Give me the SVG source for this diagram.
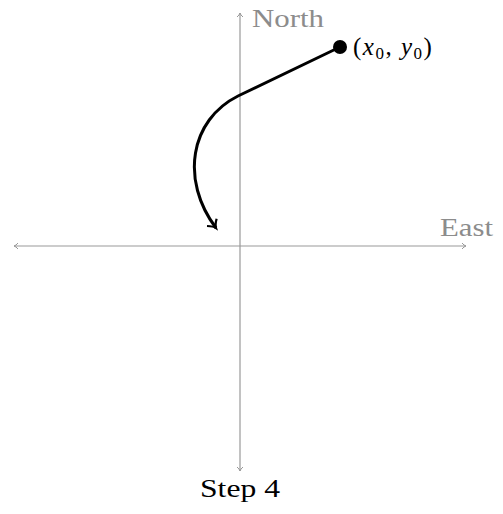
<svg xmlns="http://www.w3.org/2000/svg" width="503" height="514" viewBox="0 0 503 514">
<style>
.ax{stroke:#999;stroke-width:1.2;fill:none}
.axl{font-family:"Liberation Serif","DejaVu Serif",serif;font-size:25px;fill:#8c8c8c}
.lbl{font-family:"Liberation Serif","DejaVu Serif",serif;font-size:25px;fill:#000}
</style>
<defs>
<marker id="ga" markerWidth="10" markerHeight="10" refX="6" refY="5" orient="auto-start-reverse" markerUnits="userSpaceOnUse">
<path d="M2,2 Q4,4.5 6,5 Q4,5.5 2,8" fill="none" stroke="#999" stroke-width="1"/>
</marker>
<marker id="ba" markerWidth="16" markerHeight="16" refX="10" refY="8" orient="auto" markerUnits="userSpaceOnUse">
<path d="M3,2 Q7,7 10,8 Q7,9 3,14" fill="none" stroke="#000" stroke-width="2.2"/>
</marker>
</defs>
<g id="axes">
<line class="ax" x1="14" y1="246" x2="466" y2="246" marker-start="url(#ga)" marker-end="url(#ga)"/>
<line class="ax" x1="240" y1="13" x2="240" y2="471" marker-start="url(#ga)" marker-end="url(#ga)"/>
<text class="axl" x="252" y="27" textLength="72" lengthAdjust="spacingAndGlyphs">North</text>
<text class="axl" x="440" y="236" textLength="53" lengthAdjust="spacingAndGlyphs">East</text>
</g>
<g id="connectors">
<path d="M340,47 L238,96 C190,120 180,180 216,228" fill="none" stroke="#000" stroke-width="3" marker-end="url(#ba)"/>
</g>
<g id="start">
<circle cx="340" cy="47" r="7" fill="#000"/>
<text class="lbl" x="353" y="55" letter-spacing="1.5">(<tspan font-style="italic">x</tspan><tspan font-size="17" dy="4">0</tspan><tspan dy="-4">, </tspan><tspan font-style="italic">y</tspan><tspan font-size="17" dy="4">0</tspan><tspan dy="-4">)</tspan></text>
</g>
<g id="caption">
<text class="lbl" x="200" y="497" textLength="80" lengthAdjust="spacingAndGlyphs">Step 4</text>
</g>
</svg>
